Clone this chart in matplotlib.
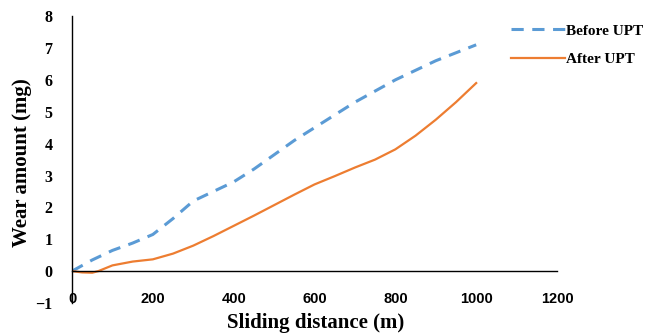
import matplotlib.pyplot as plt

# Data
distance_before = [0, 50, 100, 150, 200, 250, 300, 350, 400, 450, 500, 550, 600, 650, 700, 750, 800, 850, 900, 950, 1000]
wear_before = [0, 0.35, 0.65, 0.88, 1.15, 1.65, 2.2, 2.5, 2.8, 3.2, 3.65, 4.1, 4.5, 4.9, 5.3, 5.65, 6.0, 6.3, 6.6, 6.85, 7.1]

distance_after = [0, 25, 50, 65, 100, 150, 200, 250, 300, 350, 400, 450, 500, 550, 600, 650, 700, 750, 800, 850, 900, 950, 1000]
wear_after = [0, -0.04, -0.05, 0, 0.18, 0.3, 0.37, 0.55, 0.8, 1.1, 1.42, 1.74, 2.07, 2.4, 2.72, 2.98, 3.25, 3.5, 3.82, 4.25, 4.75, 5.3, 5.9]

x_ticks = [0, 200, 400, 600, 800, 1000, 1200]
y_ticks = [-1, 0, 1, 2, 3, 4, 5, 6, 7, 8]

serif = 'Liberation Serif'
sans = 'Liberation Sans'

fig = plt.figure(figsize=(6.65, 3.36), dpi=100)
ax = fig.add_axes([0.1083, 0.0982, 0.7293, 0.8538])

ax.plot(distance_before, wear_before, color='#5B9BD5', lw=2.2,
        linestyle=(0, (4, 2.8)), label='Before UPT')
ax.plot(distance_after, wear_after, color='#ED7D31', lw=1.6, label='After UPT')

ax.set_xlim(0, 1200)
ax.set_ylim(-1, 8)
ax.set_xticks(x_ticks)
ax.set_yticks(y_ticks)

# Excel-like axes: x axis crosses at y=0, only left/bottom lines
ax.spines['top'].set_visible(False)
ax.spines['right'].set_visible(False)
ax.spines['bottom'].set_position(('data', 0))
ax.spines['bottom'].set_linewidth(1.0)
ax.spines['left'].set_linewidth(1.0)

ax.tick_params(axis='x', length=0, pad=15)
ax.tick_params(axis='y', length=0, pad=14)
for lab in ax.get_xticklabels():
    lab.set_fontfamily(sans)
    lab.set_fontweight('bold')
    lab.set_fontsize(10.5)
for lab in ax.get_yticklabels():
    lab.set_fontfamily(serif)
    lab.set_fontweight('bold')
    lab.set_fontsize(11.5)

fig.text(0.033, 0.515, 'Wear amount (mg)', rotation=90, ha='center', va='center',
         fontfamily=serif, fontweight='bold', fontsize=15)
fig.text(0.474, 0.04, 'Sliding distance (m)', ha='center', va='center',
         fontfamily=serif, fontweight='bold', fontsize=15)

leg = fig.legend(loc='upper left', bbox_to_anchor=(0.748, 0.97), frameon=False,
                 handlelength=3.5, labelspacing=1.0, handletextpad=0.1,
                 prop={'family': serif, 'weight': 'bold', 'size': 11})

fig.savefig('out.png', dpi=100)
